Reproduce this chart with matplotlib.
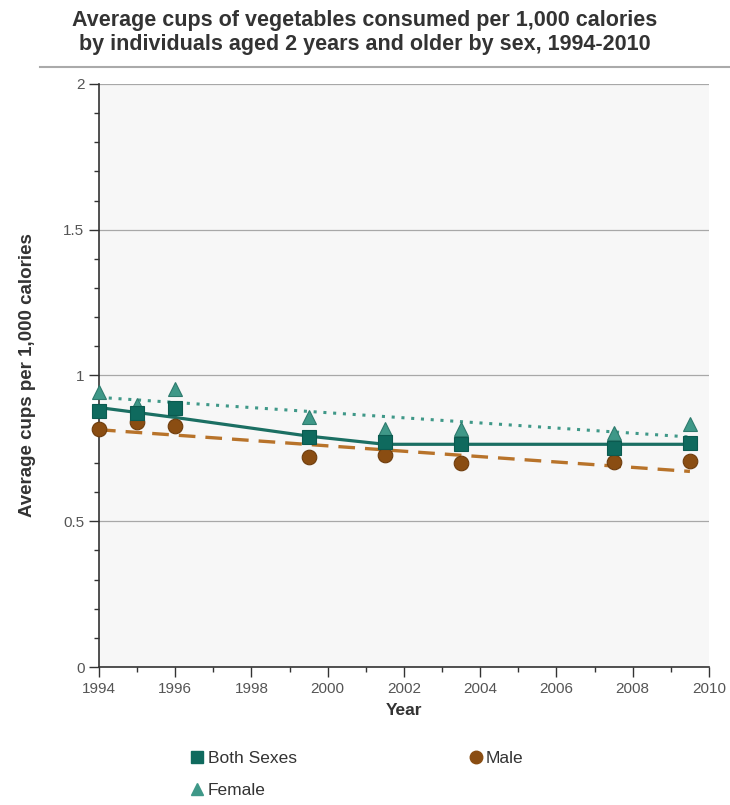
import matplotlib.pyplot as plt
from matplotlib.lines import Line2D
from matplotlib.ticker import MultipleLocator

plt.rcParams["font.family"] = ["Liberation Sans", "DejaVu Sans"]

# observed points
both_years = [1994, 1995, 1996, 1999.5, 2001.5, 2003.5, 2007.5, 2009.5]
both_vals = [0.877, 0.87, 0.888, 0.789, 0.773, 0.764, 0.752, 0.770]
male_vals = [0.816, 0.840, 0.828, 0.721, 0.727, 0.700, 0.702, 0.707]
female_vals = [0.944, 0.899, 0.953, 0.859, 0.816, 0.815, 0.804, 0.832]

# fitted trend lines
both_trend_years = [1994, 1996, 1999.5, 2001.5, 2009.5]
both_trend_vals = [0.890, 0.856, 0.792, 0.764, 0.764]
female_trend_years = [1994, 2009.5]
female_trend_vals = [0.925, 0.789]
male_trend_years = [1994, 2009.5]
male_trend_vals = [0.814, 0.671]

TEAL = "#0f6a5e"
TEAL_LINE = "#1b6f63"
TEAL_LIGHT = "#3f9888"
BROWN = "#8a4d12"
ORANGE = "#b8732a"
TXT = "#333333"
TICKTXT = "#555555"

fig = plt.figure(figsize=(7.3, 8.05), dpi=100, facecolor="white")
ax = fig.add_axes([0.1356, 0.1714, 0.8356, 0.7243])
ax.set_facecolor("#f7f7f7")

ax.plot(both_trend_years, both_trend_vals, color=TEAL_LINE, lw=2.3, zorder=3)
ax.plot(female_trend_years, female_trend_vals, color=TEAL_LIGHT, lw=2.2,
        linestyle=(0, (1, 2.2)), zorder=3)
ax.plot(male_trend_years, male_trend_vals, color=ORANGE, lw=2.4,
        linestyle=(0, (5, 3)), zorder=3)

ax.plot(both_years, male_vals, "o", ms=10.5, color=BROWN, mec="#6e3c0c",
        mew=0.8, zorder=4, clip_on=False)
ax.plot(both_years, female_vals, "^", ms=10.5, color=TEAL_LIGHT, mec="#2d7a6d",
        mew=0.8, zorder=5, clip_on=False)
ax.plot(both_years, both_vals, "s", ms=9.5, color=TEAL, mec="#0b5a50",
        mew=0.8, zorder=6, clip_on=False)

ax.set_xlim(1994, 2010)
ax.set_ylim(0, 2)
ax.set_xticks(range(1994, 2011, 2))
ax.xaxis.set_minor_locator(MultipleLocator(1))
ax.set_yticks([0, 0.5, 1, 1.5, 2])
ax.set_yticklabels(["0", "0.5", "1", "1.5", "2"])
ax.yaxis.set_minor_locator(MultipleLocator(0.1))
ax.yaxis.grid(True, color="#a8a8a8", lw=0.9)
ax.set_axisbelow(True)
for s in ["top", "right"]:
    ax.spines[s].set_visible(False)
for s in ["left", "bottom"]:
    ax.spines[s].set_color("#333333")
    ax.spines[s].set_linewidth(1.2)
ax.tick_params(axis="both", which="major", direction="out", length=7, width=1,
               colors="#333333", labelsize=11, labelcolor=TICKTXT)
ax.tick_params(axis="both", which="minor", direction="out", length=3.5,
               width=1, colors="#333333")

ax.set_xlabel("Year", fontsize=12.5, fontweight="bold", color=TXT, labelpad=5)
ax.set_ylabel("Average cups per 1,000 calories", fontsize=13.5,
              fontweight="bold", color=TXT, labelpad=20)

fig.text(0.5, 0.960, "Average cups of vegetables consumed per 1,000 calories\n"
         "by individuals aged 2 years and older by sex, 1994-2010",
         ha="center", va="center", fontsize=15.5, fontweight="bold",
         color=TXT, linespacing=1.2)
fig.add_artist(Line2D([0.055, 1.0], [0.917, 0.917], color="#aaaaaa", lw=1.5))

handles = [
    Line2D([], [], marker="s", ls="", ms=8, color=TEAL, label="Both Sexes"),
    Line2D([], [], marker="^", ls="", ms=9, color=TEAL_LIGHT, label="Female"),
    Line2D([], [], marker="o", ls="", ms=9, color=BROWN, label="Male"),
]
fig.legend(handles=handles, loc="upper left", bbox_to_anchor=(0.237, 0.087),
           ncol=2, frameon=False, fontsize=12.5, columnspacing=9.8,
           handletextpad=0.1, handlelength=1.0, labelspacing=1.0,
           labelcolor=TXT)

fig.savefig("out.png", dpi=100, facecolor="white")
